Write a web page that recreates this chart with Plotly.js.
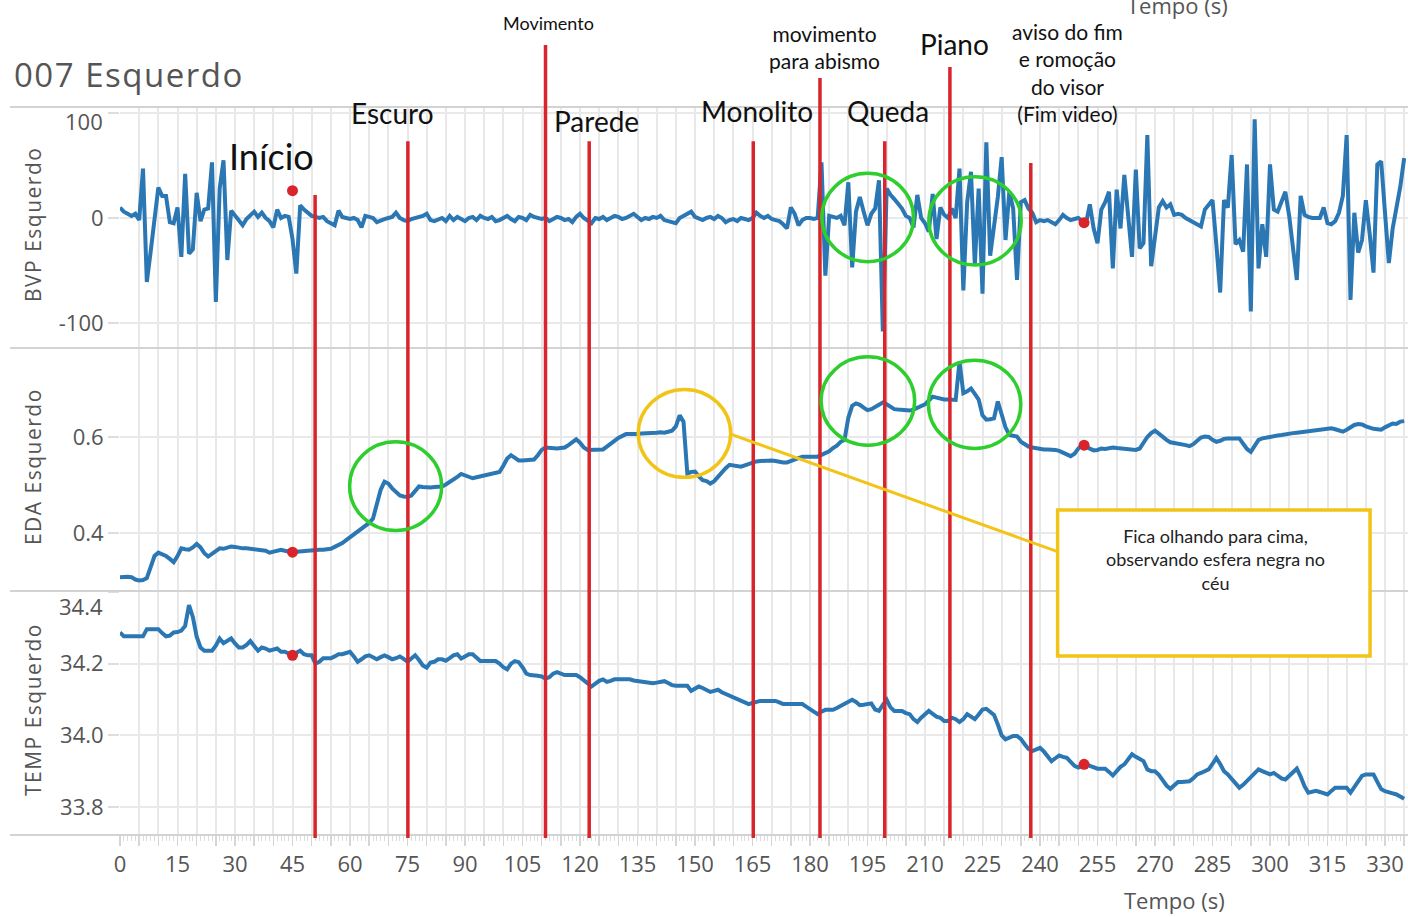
<!DOCTYPE html>
<html>
<head>
<meta charset="utf-8">
<script src="https://cdn.plot.ly/plotly-3.0.1.min.js"></script>
<style>
  html, body { margin: 0; padding: 0; background: #fff; }
  #chart { width: 1408px; height: 917px; }
  text[data-unformatted="007 Esquerdo"] { letter-spacing: 1.5px; }
  text[data-unformatted="BVP Esquerdo"],
  text[data-unformatted="EDA Esquerdo"],
  text[data-unformatted="TEMP Esquerdo"] { letter-spacing: 1.5px; }
</style>
</head>
<body>
<div id="chart"></div>
<script>
// Signals sampled once per second, starting at t = 0 s
const sampleStep = 1;

// Blood volume pulse (BVP)
const bvp = [
  10, 6, 4, 2, 4, -2, 47, -61, -32, -2,
  29, 21, 21, -4, -5, 10, -37, 42, -34, -30,
  24, -3, 8, 9, 53, -80, 28, 55, -40, 7,
  2, -3, -7, -1, 2, 6, 1, 5, 0, -3,
  -9, 8, 0, 2, 1, -20, -53, 12, 8, 5,
  2, 1, 0, 1, -3, -5, -7, 7, 1, 0,
  -1, 0, -2, -9, 2, 1, 0, -4, -2, -1,
  0, 1, 5, 0, -2, -3, -1, 0, 1, 2,
  4, -2, -3, -1, 0, -3, 2, -2, 1, -1,
  -3, 0, 1, -2, 2, 0, -1, 1, -3, -2,
  0, 2, -1, -3, 1, 0, -2, 3, 1, 0,
  -1, 0, -3, -1, 1, 0, -2, -1, -4, 1,
  4, 0, -2, -5, 0, -1, 1, -2, 0, 2,
  1, -1, 0, 2, 4, 1, -2, 0, -1, 1,
  0, 2, -2, -3, -4, -5, 0, 2, 3, 6,
  1, -1, -2, 0, 1, -1, 2, 0, -4, -2,
  -1, -3, 0, -1, -2, 0, 5, 2, 0, 2,
  -1, -2, -3, -6, -10, 10, 4, -7, -2, 0,
  0, -1, 0, 53, -55, 2, 1, 0, 2, -7,
  34, -47, 6, 20, 6, -7, 4, 9, 36, -108,
  28, 22, 18, 13, 9, 2, 0, -9, 22, 0,
  -5, -13, 23, -20, 10, 3, 0, 9, 0, 47,
  -69, 15, 44, -45, 28, -72, 72, -36, -7, 20,
  58, -21, 25, 9, -59, 15, 17, 9, 5, -4,
  -2, -3, -2, -4, -6, -2, 3, 0, -2, -1,
  0, -3, -5, 13, -10, -24, 8, 15, 25, -48,
  27, -10, 41, 2, -37, 46, -29, -24, 79, -46,
  -15, 10, 16, 10, 13, 3, 4, 3, 0, -2,
  -3, -5, -8, 8, 12, 17, -25, -71, 17, 10,
  60, -25, -21, -32, 51, -89, 94, -48, -6, -37,
  51, 8, 6, 15, 25, 2, -25, -59, 21, 3,
  1, 0, 0, 0, 10, -5, -6, -3, 5, 21,
  79, -78, 5, -33, -21, 17, -15, -52, 51, 54,
  5, -43, -10, 11, 30, 57
];

// Electrodermal activity (EDA)
const eda = [
  0.308, 0.309, 0.309, 0.308, 0.303, 0.301, 0.302, 0.306, 0.330, 0.352,
  0.359, 0.356, 0.352, 0.346, 0.339, 0.352, 0.368, 0.366, 0.365, 0.370,
  0.377, 0.370, 0.358, 0.351, 0.356, 0.363, 0.368, 0.367, 0.369, 0.372,
  0.371, 0.369, 0.368, 0.368, 0.367, 0.367, 0.366, 0.366, 0.363, 0.359,
  0.361, 0.364, 0.365, 0.363, 0.361, 0.360, 0.361, 0.362, 0.363, 0.363,
  0.364, 0.364, 0.365, 0.365, 0.365, 0.367, 0.371, 0.374, 0.379, 0.385,
  0.391, 0.397, 0.402, 0.409, 0.416, 0.421, 0.430, 0.460, 0.490, 0.507,
  0.503, 0.493, 0.484, 0.478, 0.476, 0.475, 0.478, 0.488, 0.497, 0.496,
  0.495, 0.495, 0.496, 0.497, 0.497, 0.501, 0.506, 0.510, 0.517, 0.523,
  0.520, 0.515, 0.514, 0.516, 0.518, 0.519, 0.520, 0.522, 0.524, 0.527,
  0.540, 0.555, 0.562, 0.557, 0.551, 0.551, 0.552, 0.552, 0.553, 0.562,
  0.573, 0.578, 0.577, 0.576, 0.576, 0.577, 0.578, 0.583, 0.590, 0.595,
  0.588, 0.578, 0.573, 0.573, 0.573, 0.573, 0.574, 0.580, 0.587, 0.592,
  0.598, 0.603, 0.606, 0.606, 0.605, 0.606, 0.607, 0.607, 0.608, 0.608,
  0.609, 0.610, 0.609, 0.611, 0.613, 0.622, 0.645, 0.632, 0.524, 0.527,
  0.528, 0.518, 0.510, 0.508, 0.503, 0.508, 0.518, 0.526, 0.535, 0.542,
  0.540, 0.538, 0.538, 0.541, 0.544, 0.547, 0.549, 0.550, 0.551, 0.552,
  0.551, 0.550, 0.548, 0.547, 0.547, 0.550, 0.554, 0.558, 0.559, 0.559,
  0.558, 0.559, 0.559, 0.562, 0.566, 0.570, 0.577, 0.582, 0.590, 0.594,
  0.640, 0.665, 0.670, 0.667, 0.661, 0.656, 0.658, 0.663, 0.668, 0.672,
  0.668, 0.662, 0.658, 0.657, 0.656, 0.655, 0.655, 0.657, 0.660, 0.663,
  0.668, 0.676, 0.684, 0.682, 0.679, 0.678, 0.678, 0.677, 0.677, 0.757,
  0.691, 0.695, 0.701, 0.690, 0.678, 0.645, 0.636, 0.637, 0.639, 0.674,
  0.650, 0.620, 0.604, 0.603, 0.601, 0.590, 0.585, 0.580, 0.578, 0.576,
  0.575, 0.574, 0.574, 0.574, 0.573, 0.571, 0.567, 0.563, 0.560, 0.565,
  0.576, 0.583, 0.580, 0.575, 0.572, 0.573, 0.576, 0.575, 0.577, 0.578,
  0.577, 0.576, 0.576, 0.574, 0.572, 0.573, 0.576, 0.588, 0.600, 0.608,
  0.613, 0.607, 0.600, 0.594, 0.589, 0.588, 0.586, 0.585, 0.583, 0.581,
  0.585, 0.592, 0.599, 0.601, 0.600, 0.594, 0.590, 0.592, 0.596, 0.597,
  0.598, 0.597, 0.597, 0.586, 0.575, 0.569, 0.582, 0.594, 0.597, 0.599,
  0.600, 0.602, 0.603, 0.604, 0.606, 0.608, 0.608, 0.609, 0.610, 0.612,
  0.614, 0.615, 0.614, 0.616, 0.617, 0.618, 0.618, 0.616, 0.613, 0.611,
  0.615, 0.620, 0.625, 0.627, 0.626, 0.622, 0.619, 0.617, 0.616, 0.615,
  0.620, 0.625, 0.628, 0.627, 0.632, 0.633
];

// Skin temperature (TEMP)
const temp = [
  34.287, 34.276, 34.276, 34.276, 34.276, 34.276, 34.276, 34.296, 34.296, 34.296,
  34.296, 34.285, 34.276, 34.278, 34.287, 34.288, 34.292, 34.305, 34.363, 34.330,
  34.275, 34.245, 34.236, 34.236, 34.236, 34.250, 34.270, 34.257, 34.262, 34.270,
  34.256, 34.245, 34.245, 34.252, 34.263, 34.250, 34.236, 34.245, 34.242, 34.236,
  34.238, 34.242, 34.233, 34.233, 34.228, 34.223, 34.230, 34.236, 34.226, 34.223,
  34.223, 34.200, 34.205, 34.215, 34.215, 34.215, 34.220, 34.226, 34.226, 34.230,
  34.233, 34.220, 34.205, 34.212, 34.220, 34.223, 34.218, 34.212, 34.218, 34.223,
  34.218, 34.212, 34.215, 34.220, 34.213, 34.205, 34.214, 34.223, 34.210, 34.195,
  34.189, 34.203, 34.205, 34.212, 34.212, 34.208, 34.215, 34.223, 34.226, 34.214,
  34.220, 34.226, 34.226, 34.215, 34.207, 34.207, 34.207, 34.207, 34.207, 34.200,
  34.190, 34.184, 34.200, 34.207, 34.204, 34.190, 34.172, 34.168, 34.168, 34.166,
  34.164, 34.158, 34.162, 34.172, 34.176, 34.172, 34.168, 34.168, 34.168, 34.168,
  34.162, 34.155, 34.145, 34.136, 34.145, 34.152, 34.156, 34.149, 34.152, 34.156,
  34.156, 34.156, 34.156, 34.156, 34.153, 34.151, 34.149, 34.148, 34.146, 34.145,
  34.147, 34.150, 34.151, 34.146, 34.140, 34.138, 34.138, 34.138, 34.138, 34.124,
  34.130, 34.136, 34.132, 34.126, 34.121, 34.124, 34.127, 34.120, 34.115, 34.112,
  34.106, 34.100, 34.095, 34.090, 34.087, 34.090, 34.094, 34.096, 34.096, 34.096,
  34.096, 34.096, 34.092, 34.087, 34.087, 34.087, 34.087, 34.087, 34.087, 34.080,
  34.072, 34.066, 34.059, 34.066, 34.071, 34.071, 34.071, 34.076, 34.082, 34.087,
  34.093, 34.099, 34.093, 34.084, 34.085, 34.088, 34.089, 34.072, 34.068, 34.085,
  34.099, 34.078, 34.068, 34.068, 34.068, 34.062, 34.059, 34.045, 34.037, 34.049,
  34.058, 34.068, 34.060, 34.052, 34.049, 34.040, 34.040, 34.049, 34.045, 34.037,
  34.045, 34.059, 34.052, 34.045, 34.058, 34.072, 34.074, 34.064, 34.057, 34.030,
  34.000, 33.989, 33.995, 33.998, 33.998, 33.990, 33.975, 33.962, 33.956, 33.962,
  33.965, 33.955, 33.940, 33.928, 33.936, 33.944, 33.940, 33.937, 33.926, 33.915,
  33.910, 33.916, 33.919, 33.915, 33.910, 33.907, 33.907, 33.907, 33.898, 33.888,
  33.900, 33.912, 33.919, 33.935, 33.947, 33.940, 33.933, 33.928, 33.905, 33.900,
  33.900, 33.890, 33.875, 33.860, 33.851, 33.860, 33.870, 33.870, 33.871, 33.872,
  33.880, 33.891, 33.895, 33.900, 33.905, 33.920, 33.937, 33.920, 33.900, 33.891,
  33.878, 33.865, 33.854, 33.862, 33.872, 33.883, 33.895, 33.905, 33.900, 33.895,
  33.891, 33.895, 33.888, 33.880, 33.877, 33.888, 33.900, 33.907, 33.885, 33.858,
  33.840, 33.842, 33.845, 33.842, 33.838, 33.835, 33.845, 33.854, 33.854, 33.854,
  33.854, 33.840, 33.855, 33.872, 33.887, 33.891, 33.891, 33.891, 33.870, 33.850,
  33.844, 33.842, 33.838, 33.835, 33.830, 33.823
];

// Highlighted instants (red dots) on each signal
const markTimes = [45, 251.5];
const bvpMarks = [26, -4.5];
const edaMarks = [0.360, 0.583];
const tempMarks = [34.223, 33.919];

// Session events (vertical red lines), in seconds
const eventTimes = [50.9, 75.1, 111.0, 122.4, 165.2, 182.6, 199.5, 216.5, 237.6];
const eventNames = ['Início', 'Escuro', 'Movimento', 'Parede', 'Monolito',
  'movimento<br>para abismo', 'Queda', 'Piano',
  'aviso do fim<br>e romoção<br>do visor<br>(Fim video)'];

// Axis ticks and their labels (the top label of a panel is drawn inside it)
const bvpTicks = [-100, 0, 100];
const bvpTickLabels = ['-100', '0', '100'];
const edaTicks = [0.4, 0.6];
const edaTickLabels = ['0.4', '0.6'];
const tempTicks = [33.8, 34.0, 34.2, 34.4];
const tempTickLabels = ['33.8', '34.0', '34.2', '34.4'];

// Note box text
const noteText = 'Fica olhando para cima,<br>observando esfera negra no<br>céu';

// ---------- drawing ----------
const BLUE = '#2b77b4';
const RED = '#d8242a';
const GREEN = '#2fce2f';
const YELLOW = '#f2c418';
const GREY = '#555555';
const TICK_FONT = {family: 'Open Sans', size: 22, color: GREY};

// per-event placement: top of the red line (paper y), label centre (x in s, y in paper), label size
const eventStyle = [
  {top: 0.879, lx: 39.4, ly: 0.933, size: 36},
  {top: 0.953, lx: 71.2, ly: 0.992, size: 28},
  {top: 1.085, lx: 111.9, ly: 1.115, size: 18},
  {top: 0.953, lx: 124.2, ly: 0.981, size: 28},
  {top: 0.953, lx: 166.2, ly: 0.995, size: 28},
  {top: 1.040, lx: 183.9, ly: 1.082, size: 21},
  {top: 0.953, lx: 200.4, ly: 0.995, size: 28},
  {top: 1.055, lx: 217.6, ly: 1.087, size: 28},
  {top: 0.923, lx: 247.1, ly: 1.047, size: 21}
];

const lineTrace = (y, yaxis) => ({
  type: 'scatter', mode: 'lines', y: y, x0: 0, dx: sampleStep,
  xaxis: 'x', yaxis: yaxis,
  line: {color: BLUE, width: 4}, hoverinfo: 'skip'
});
const dotTrace = (y, yaxis) => ({
  type: 'scatter', mode: 'markers', x: markTimes, y: y,
  xaxis: 'x', yaxis: yaxis,
  marker: {color: RED, size: 11}, hoverinfo: 'skip', cliponaxis: false
});

const traces = [
  lineTrace(bvp, 'y'), lineTrace(eda, 'y2'), lineTrace(temp, 'y3'),
  dotTrace(bvpMarks, 'y'), dotTrace(edaMarks, 'y2'), dotTrace(tempMarks, 'y3')
];

// axis labels: the last (top) label of a panel is placed by an annotation below its gridline
const withoutTop = labels => labels.map((s, i) => (i === labels.length - 1 ? '' : s));

const yCommon = {
  anchor: 'x', showgrid: true, gridcolor: '#e9e9e9', gridwidth: 2,
  zeroline: false, showline: false,
  ticks: 'outside', ticklen: 11, tickwidth: 2, tickcolor: '#dddddd',
  tickfont: TICK_FONT, tickmode: 'array'
};

const shapes = [];

// panel separators
[1.0, 0.669, 0.3352, 0.0].forEach(y => shapes.push({
  type: 'line', xref: 'paper', yref: 'paper', x0: -0.0854, x1: 1, y0: y, y1: y,
  line: {color: '#d3d3d3', width: 2}, layer: 'above'
}));

// BVP zero reference
shapes.push({
  type: 'line', xref: 'paper', yref: 'y', x0: 0, x1: 1, y0: 0, y1: 0,
  line: {color: '#666', width: 1.5, dash: '4px,3px'}, layer: 'below'
});

// event lines
eventTimes.forEach((t, i) => shapes.push({
  type: 'line', xref: 'x', yref: 'paper', x0: t, x1: t, y0: -0.004, y1: eventStyle[i].top,
  line: {color: RED, width: 3.5}, layer: 'above'
}));

// highlight circles
const ring = (x0, x1, y0, y1, yref, color) => ({
  type: 'circle', xref: 'x', yref: yref, x0: x0, x1: x1, y0: y0, y1: y1,
  line: {color: color, width: 3.5}, fillcolor: 'rgba(0,0,0,0)', layer: 'above'
});
shapes.push(ring(183.1, 207.0, -41.6, 42.6, 'y', GREEN));
shapes.push(ring(211.0, 235.1, -44.8, 39.3, 'y', GREEN));
shapes.push(ring(59.9, 83.9, 0.405, 0.590, 'y2', GREEN));
shapes.push(ring(182.9, 207.3, 0.583, 0.767, 'y2', GREEN));
shapes.push(ring(210.9, 235.0, 0.576, 0.760, 'y2', GREEN));
shapes.push(ring(135.2, 159.3, 0.516, 0.699, 'y2', YELLOW));

// callout connector and note box
shapes.push({
  type: 'line', xref: 'x', yref: 'y2', x0: 159.3, y0: 0.606, x1: 244.6, y1: 0.361,
  line: {color: YELLOW, width: 3}, layer: 'above'
});
shapes.push({
  type: 'rect', xref: 'x', yref: 'paper', x0: 244.6, x1: 326.1, y0: 0.2459, y1: 0.4464,
  line: {color: YELLOW, width: 3.5}, fillcolor: '#ffffff', layer: 'above'
});

const annotations = [];
eventNames.forEach((name, i) => annotations.push({
  xref: 'x', yref: 'paper', x: eventStyle[i].lx, y: eventStyle[i].ly,
  text: name, showarrow: false, xanchor: 'center', yanchor: 'middle',
  font: {family: 'Lato', size: eventStyle[i].size, color: '#111'}, align: 'center'
}));

annotations.push({
  xref: 'x', yref: 'paper', x: 285.7, y: 0.378, text: noteText, showarrow: false,
  xanchor: 'center', yanchor: 'middle', align: 'center',
  font: {family: 'Lato', size: 18, color: '#222'}
});

// top tick labels of the BVP and TEMP panels, kept inside their panel
annotations.push({
  xref: 'paper', yref: 'paper', x: -0.0117, y: 0.9808,
  text: bvpTickLabels[bvpTickLabels.length - 1], showarrow: false,
  xanchor: 'right', yanchor: 'middle', font: TICK_FONT
});
annotations.push({
  xref: 'paper', yref: 'paper', x: -0.0117, y: 0.3146,
  text: tempTickLabels[tempTickLabels.length - 1], showarrow: false,
  xanchor: 'right', yanchor: 'middle', font: TICK_FONT
});

// chart title and panel titles
annotations.push({
  xref: 'paper', yref: 'paper', x: -0.0839, y: 1.0453, text: '007 Esquerdo',
  showarrow: false, xanchor: 'left', yanchor: 'middle',
  font: {family: 'Open Sans', size: 33, color: GREY}
});
[['BVP Esquerdo', 0.838], ['EDA Esquerdo', 0.5055], ['TEMP Esquerdo', 0.1717]].forEach(([txt, y]) =>
  annotations.push({
    xref: 'paper', yref: 'paper', x: -0.0675, y: y, text: txt, textangle: -90,
    showarrow: false, xanchor: 'center', yanchor: 'middle',
    font: {family: 'Open Sans', size: 21, color: GREY}
  }));

// x-axis title (and its repeat cut by the top edge)
annotations.push({
  xref: 'paper', yref: 'paper', x: 0.819, y: -0.0893, text: 'Tempo (s)',
  showarrow: false, xanchor: 'center', yanchor: 'middle',
  font: {family: 'Open Sans', size: 22, color: GREY}
});
annotations.push({
  xref: 'paper', yref: 'paper', x: 0.8214, y: 1.1168, text: 'Tempo (s)',
  showarrow: false, xanchor: 'center', yanchor: 'bottom',
  font: {family: 'Open Sans', size: 22, color: GREY}
});

const layout = {
  width: 1408, height: 917,
  margin: {l: 120, r: 0, t: 107, b: 82, pad: 0},
  paper_bgcolor: '#ffffff', plot_bgcolor: '#ffffff',
  showlegend: false, hovermode: false,
  font: {family: 'Open Sans', color: GREY},
  xaxis: {
    anchor: 'y3', range: [0, 336], tickmode: 'linear', tick0: 0, dtick: 5, ticklabelstep: 3,
    showgrid: true, gridcolor: '#e8e8e8', gridwidth: 2, zeroline: false, showline: false,
    ticks: 'outside', ticklen: 10, tickwidth: 1.5, tickcolor: '#d6d6d6',
    tickfont: TICK_FONT,
    minor: {tickmode: 'linear', tick0: 0, dtick: 1, ticks: 'outside', ticklen: 5,
            tickwidth: 1, tickcolor: '#dcdcdc', showgrid: false}
  },
  yaxis: Object.assign({}, yCommon, {domain: [0.669, 1], range: [-123.8, 105.7],
    tickvals: bvpTicks, ticktext: withoutTop(bvpTickLabels)}),
  yaxis2: Object.assign({}, yCommon, {domain: [0.3352, 0.669], range: [0.2792, 0.7854],
    tickvals: edaTicks, ticktext: edaTickLabels}),
  yaxis3: Object.assign({}, yCommon, {domain: [0, 0.3352], range: [33.722, 34.4025],
    tickvals: tempTicks, ticktext: withoutTop(tempTickLabels)}),
  shapes: shapes,
  annotations: annotations
};

Plotly.newPlot('chart', traces, layout, {staticPlot: true, displayModeBar: false});
</script>
</body>
</html>
